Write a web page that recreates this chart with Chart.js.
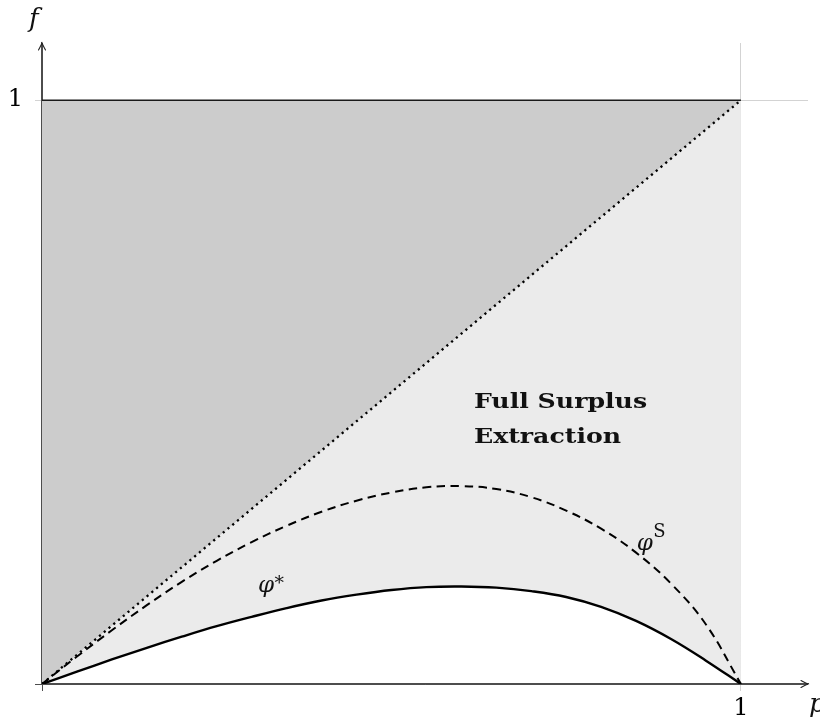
<!DOCTYPE html>
<html><head><meta charset="utf-8">
<script src="https://cdn.jsdelivr.net/npm/chart.js@4.4.1/dist/chart.umd.min.js"></script>
<style>html,body{margin:0;padding:0;background:#fff}</style>
</head><body>
<canvas id="c" width="820" height="725"></canvas>
<script>
// ---- data ----
const P_GRID   = [0,0.05,0.1,0.15,0.2,0.25,0.3,0.35,0.4,0.45,0.5,0.55,0.6,0.65,0.7,0.75,0.8,0.85,0.9,0.95,1];
const PHI_STAR = [0,0.021,0.042,0.062,0.081,0.099,0.115,0.130,0.143,0.153,0.161,0.166,0.167,0.165,0.159,0.149,0.132,0.108,0.077,0.040,0];
const PHI_S    = [0,0.047,0.092,0.135,0.175,0.211,0.243,0.271,0.295,0.314,0.328,0.337,0.339,0.334,0.320,0.297,0.266,0.225,0.172,0.102,0];
const DIAG_P   = [0,1];
const DIAG_F   = [0,1];
const TOP_P    = [0,1];
const TOP_F    = [1,1];
const X_TICKS  = [0,1];
const Y_TICKS  = [0,1];
const X_MAX = 1.096, Y_MAX = 1.098;
const REGION_TEXT = ['Full Surplus','Extraction'];
const REGION_POS  = [0.618, 0.473];
const PHI_STAR_POS = [0.309, 0.158];
const PHI_S_POS    = [0.851, 0.229];

const pts = (xs, ys) => xs.map((x,i)=>({x, y: ys[i]}));
const AXIS = '#4d4d4d';
const GRID = '#d3d3d3';
const SERIF = '"DejaVu Serif", "Liberation Serif", serif';

const overlay = {
  id: 'overlay',
  afterDraw(chart) {
    const {ctx, chartArea: a, scales: {x, y}} = chart;
    ctx.save();
    // arrowheads
    ctx.strokeStyle = '#222'; ctx.lineWidth = 1.1; ctx.lineCap='round';
    ctx.beginPath();
    ctx.moveTo(a.right-7, a.bottom-3.5); ctx.quadraticCurveTo(a.right-2, a.bottom-0.8, a.right, a.bottom);
    ctx.quadraticCurveTo(a.right-2, a.bottom+0.8, a.right-7, a.bottom+3.5);
    ctx.moveTo(a.left-3.5, a.top+7); ctx.quadraticCurveTo(a.left-0.8, a.top+2, a.left, a.top);
    ctx.quadraticCurveTo(a.left+0.8, a.top+2, a.left+3.5, a.top+7);
    ctx.stroke();
    // axis titles
    ctx.fillStyle = '#111';
    ctx.font = 'italic 26px ' + SERIF;
    ctx.textBaseline = 'alphabetic';
    ctx.textAlign = 'left';
    ctx.fillText('f', a.left-13, 27);
    ctx.fillText('p', a.right+1, 712);
    // region text (wide bold serif, like CM bold extended)
    ctx.font = 'bold 21px ' + SERIF;
    const rx = x.getPixelForValue(REGION_POS[0]);
    const ry = y.getPixelForValue(REGION_POS[1]);
    ctx.save();
    ctx.translate(rx, ry);
    ctx.scale(1.2, 1);
    ctx.fillText(REGION_TEXT[0], 0, 0);
    ctx.fillText(REGION_TEXT[1], 0, 35);
    ctx.restore();
    // curve labels
    const lab = (pos, sup, supFont, dy) => {
      const px = x.getPixelForValue(pos[0]), py = y.getPixelForValue(pos[1]);
      ctx.font = 'italic 23px ' + SERIF;
      ctx.fillText('\u03C6', px, py);
      const w = ctx.measureText('\u03C6').width;
      ctx.font = supFont;
      ctx.fillText(sup, px + w + 0.5, py - dy);
    };
    lab(PHI_STAR_POS, '*', '19px ' + SERIF, 3);
    lab(PHI_S_POS, 'S', '18px ' + SERIF, 13);
    ctx.restore();
  }
};

new Chart(document.getElementById('c'), {
  type: 'line',
  data: {
    datasets: [
      { data: pts(TOP_P, TOP_F), borderColor: '#1a1a1a', borderWidth: 1.5,
        fill: '+1', backgroundColor: '#cccccc', pointRadius: 0, tension: 0 },
      { data: pts(DIAG_P, DIAG_F), borderColor: '#000', borderWidth: 2.3, borderDash: [2.2, 4.0],
        fill: 3, backgroundColor: '#ebebeb', pointRadius: 0, tension: 0 },
      { data: pts(P_GRID, PHI_S), borderColor: '#000', borderWidth: 2, borderDash: [8.5, 5.5],
        fill: false, pointRadius: 0, tension: 0.4 },
      { data: pts(P_GRID, PHI_STAR), borderColor: '#000', borderWidth: 2.4,
        fill: false, pointRadius: 0, tension: 0.4 }
    ]
  },
  options: {
    responsive: false, animation: false, devicePixelRatio: 1,
    layout: { padding: { top: 43, right: 12, left: 0, bottom: 0 } },
    plugins: { legend: { display: false }, tooltip: { enabled: false },
      filler: { drawTime: 'beforeDatasetsDraw' } },
    scales: {
      x: { type: 'linear', min: 0, max: X_MAX,
        afterBuildTicks: s => { s.ticks = X_TICKS.map(v => ({ value: v })); },
        afterFit: s => { s.height = 41; },
        ticks: { padding: 3, color: '#000', font: { family: SERIF, size: 24 },
          callback: v => v === 0 ? '' : String(v) },
        grid: { color: c => (c.tick && c.tick.value === 0) ? AXIS : GRID, lineWidth: 1, tickLength: 7 },
        border: { color: AXIS, width: 1.1 } },
      y: { type: 'linear', min: 0, max: Y_MAX,
        afterBuildTicks: s => { s.ticks = Y_TICKS.map(v => ({ value: v })); },
        afterFit: s => { s.width = 42; },
        ticks: { padding: 12, color: '#000', font: { family: SERIF, size: 24 },
          callback: v => v === 0 ? '' : String(v) },
        grid: { color: c => (c.tick && c.tick.value === 0) ? AXIS : GRID, lineWidth: 1, tickLength: 7 },
        border: { color: AXIS, width: 1.1 } }
    }
  },
  plugins: [overlay]
});
</script>
</body></html>
